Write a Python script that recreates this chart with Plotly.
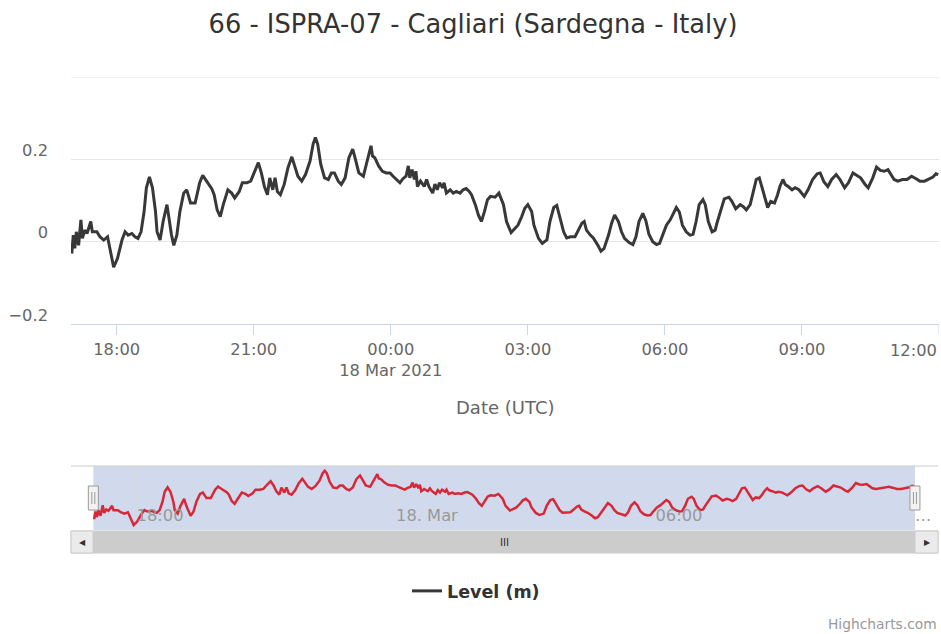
import pandas as pd
import plotly.graph_objects as go

# ---- data ----
times_mar17 = ["17:01","17:03","17:05","17:07","17:10","17:13","17:15","17:18","17:21","17:26","17:28","17:34","17:38","17:43","17:48","17:51","17:56",
               "18:01","18:07","18:11","18:15","18:20","18:24","18:28","18:32","18:36","18:39","18:43","18:47","18:51","18:53","18:57",
               "19:01","19:06","19:09","19:12","19:15","19:19","19:23","19:28","19:32","19:37","19:43","19:49","19:53","19:58",
               "20:05","20:08","20:12","20:16","20:20","20:26","20:31","20:35","20:41","20:45","20:51","20:56",
               "21:01","21:06","21:10","21:14","21:18","21:21","21:25","21:28","21:31","21:35","21:40","21:45","21:50","21:54","21:58",
               "22:03","22:08","22:14","22:18","22:21","22:24","22:28","22:33","22:38","22:42","22:46","22:51","22:55",
               "23:00","23:05","23:10","23:13","23:18","23:24","23:28","23:32","23:34","23:36","23:39","23:44","23:49","23:54","23:59"]
level_mar17 = [-0.029,0.016,-0.016,0.024,-0.009,0.053,0.008,0.028,0.020,0.049,0.024,0.024,0.012,0.004,0.012,-0.017,-0.062,
               -0.041,0.004,0.024,0.016,0.020,0.012,0.008,0.024,0.073,0.131,0.157,0.131,0.073,0.024,0.004,
               0.049,0.090,0.049,0.016,-0.009,0.016,0.073,0.118,0.126,0.094,0.094,0.143,0.161,0.147,
               0.128,0.114,0.077,0.061,0.090,0.126,0.118,0.106,0.122,0.143,0.143,0.147,
               0.171,0.192,0.167,0.134,0.114,0.155,0.126,0.155,0.122,0.114,0.139,0.180,0.206,0.180,0.159,
               0.147,0.163,0.196,0.237,0.253,0.237,0.188,0.155,0.151,0.167,0.167,0.147,0.139,
               0.155,0.204,0.225,0.204,0.167,0.159,0.188,0.216,0.233,0.208,0.204,0.184,0.171,0.167,0.167]

times_mar18 = ["00:03","00:07","00:12","00:16","00:20","00:23","00:25","00:28","00:31","00:33","00:35","00:39","00:44","00:47","00:50","00:55","00:58",
               "01:01","01:04","01:08","01:10","01:13","01:18","01:22","01:26","01:31","01:35","01:39","01:43","01:46","01:51","01:55","01:59",
               "02:03","02:07","02:11","02:17","02:22","02:26","02:28","02:32","02:38","02:43","02:47","02:52","02:56",
               "03:00","03:05","03:08","03:14","03:19","03:25","03:29","03:34","03:38","03:42","03:47","03:51","03:56",
               "04:02","04:06","04:11","04:14","04:17","04:22","04:26","04:32","04:36","04:40","04:46","04:50","04:54","04:59",
               "05:03","05:07","05:13","05:18","05:22","05:26","05:31","05:35","05:39","05:44","05:49","05:53","05:57",
               "06:02","06:07","06:11","06:15","06:19","06:23","06:28","06:33","06:37","06:41","06:45","06:50","06:53","06:57",
               "07:02","07:06","07:09","07:14","07:18","07:24","07:28","07:33","07:39","07:43","07:47","07:52","07:56",
               "08:00","08:04","08:07","08:12","08:15","08:19","08:24","08:28","08:31","08:35","08:38","08:42","08:47","08:51","08:56",
               "09:03","09:08","09:14","09:20","09:24","09:29","09:34","09:39","09:45","09:50","09:56",
               "10:01","10:07","10:11","10:17","10:23","10:27","10:33","10:38","10:43","10:48","10:53","10:57",
               "11:01","11:06","11:12","11:18","11:24","11:30","11:35","11:41","11:46","11:52","11:56","11:59"]
level_mar18 = [0.159,0.151,0.143,0.153,0.159,0.184,0.155,0.175,0.151,0.171,0.134,0.147,0.134,0.151,0.134,0.118,0.140,
               0.126,0.143,0.131,0.143,0.118,0.126,0.118,0.122,0.118,0.126,0.129,0.122,0.114,0.090,0.065,0.049,
               0.073,0.102,0.110,0.108,0.118,0.098,0.090,0.049,0.022,0.032,0.040,0.061,0.081,
               0.090,0.073,0.040,0.008,-0.004,0.004,0.049,0.083,0.088,0.061,0.024,0.009,0.012,
               0.012,0.026,0.045,0.049,0.028,0.016,0.009,-0.009,-0.023,-0.017,0.016,0.045,0.065,0.049,
               0.024,0.008,-0.002,-0.007,0.012,0.049,0.069,0.051,0.018,0.000,-0.007,-0.004,0.016,
               0.040,0.053,0.069,0.083,0.072,0.040,0.024,0.016,0.018,0.049,0.090,0.102,0.090,0.049,
               0.024,0.028,0.049,0.081,0.104,0.108,0.098,0.080,0.090,0.085,0.077,0.090,0.122,
               0.151,0.155,0.134,0.098,0.083,0.098,0.094,0.114,0.134,0.151,0.139,0.134,0.126,0.131,0.126,
               0.110,0.126,0.151,0.165,0.167,0.145,0.134,0.151,0.163,0.151,0.131,
               0.143,0.167,0.163,0.155,0.139,0.131,0.155,0.181,0.173,0.171,0.175,0.163,
               0.151,0.147,0.151,0.151,0.159,0.153,0.147,0.147,0.151,0.157,0.165,0.163]

main_ticks = ["2021-03-17 18:00","2021-03-17 21:00","2021-03-18 00:00","2021-03-18 03:00",
              "2021-03-18 06:00","2021-03-18 09:00","2021-03-18 12:00"]
main_tick_text = ["18:00","21:00","00:00<br>18 Mar 2021","03:00","06:00","09:00","12:00"]
nav_ticks = ["2021-03-17 18:00","2021-03-18 00:00","2021-03-18 06:00","2021-03-18 12:00"]
nav_tick_text = ["18:00","18. Mar","06:00","…"]
y_ticks = [-0.2, 0, 0.2, 0.4]
y_tick_text = ["−0.2", "0", "0.2", ""]

view_start, view_end = "2021-03-17 17:00", "2021-03-18 12:00"
nav_start, nav_end = "2021-03-17 16:29", "2021-03-18 12:32"

times = pd.to_datetime(["2021-03-17 " + t for t in times_mar17] + ["2021-03-18 " + t for t in times_mar18])
level = level_mar17 + level_mar18

FONT = "DejaVu Sans"
W, H = 941, 634
ML, MR, MT, MB = 71, 2, 77, 634 - 553
PW, PH = W - ML - MR, H - MT - MB


def px_x(p):  # window pixel -> paper x
    return (p - ML) / PW


def px_y(p):  # window pixel -> paper y
    return (H - MB - p) / PH


fig = go.Figure()
fig.add_trace(go.Scatter(x=times, y=level, mode="lines", name="Level (m)",
                         line=dict(color="#383838", width=3), xaxis="x", yaxis="y"))
fig.add_trace(go.Scatter(x=times, y=level, mode="lines", showlegend=False,
                         line=dict(color="#d62839", width=2.5), xaxis="x2", yaxis="y2"))

sb_y0, sb_y1 = px_y(553), px_y(531)
shapes = [
    # top grid line of the main plot (sits on the plot edge)
    dict(type="line", xref="x domain", yref="y", x0=0, x1=1, y0=y_ticks[-1], y1=y_ticks[-1],
         line=dict(color="#e6e6e6", width=1), layer="below"),
    dict(type="rect", xref="x2", yref="paper", x0=view_start, x1=view_end, y0=px_y(530), y1=px_y(466),
         fillcolor="rgba(102,133,194,0.3)", line=dict(width=0), layer="below"),
    dict(type="line", xref="paper", yref="paper", x0=0, x1=px_x(938), y0=px_y(466), y1=px_y(466),
         line=dict(color="#cccccc", width=1)),
    # scrollbar
    dict(type="rect", xref="paper", yref="paper", x0=0, x1=px_x(938), y0=sb_y0, y1=sb_y1,
         fillcolor="#cccccc", line=dict(color="#cccccc", width=1)),
    dict(type="rect", xref="paper", yref="paper", x0=0, x1=px_x(93), y0=sb_y0, y1=sb_y1,
         fillcolor="#ebebeb", line=dict(color="#cccccc", width=1)),
    dict(type="rect", xref="paper", yref="paper", x0=px_x(915), x1=px_x(938), y0=sb_y0, y1=sb_y1,
         fillcolor="#ebebeb", line=dict(color="#cccccc", width=1)),
    # tick mark at the right end of the main axis
    dict(type="line", xref="x", yref="paper", x0=view_end, x1=view_end, y0=px_y(324), y1=px_y(334),
         line=dict(color="#ccd6eb", width=1)),
]
for t in (view_start, view_end):
    shapes.append(dict(type="rect", xref="x2", yref="paper", xsizemode="pixel",
                       xanchor=t, x0=-5, x1=5, y0=px_y(510), y1=px_y(486),
                       fillcolor="#f2f2f2", line=dict(color="#999999", width=1)))
    for dx in (-1.5, 1.5):
        shapes.append(dict(type="line", xref="x2", yref="paper", xsizemode="pixel",
                           xanchor=t, x0=dx, x1=dx, y0=px_y(504), y1=px_y(492),
                           line=dict(color="#999999", width=1)))

annotations = [
    # last main tick label, kept inside the chart like the original
    dict(text=main_tick_text[-1], xref="paper", yref="paper", x=px_x(939), y=px_y(350), xanchor="right",
         yanchor="middle", showarrow=False, font=dict(family=FONT, size=16.3, color="#666666")),
    dict(text="Date (UTC)", xref="paper", yref="paper", x=px_x(505), y=px_y(407), xanchor="center", yanchor="middle",
         showarrow=False, font=dict(family=FONT, size=18, color="#666666")),
    dict(text="Highcharts.com", xref="paper", yref="paper", x=px_x(939), y=px_y(624), xanchor="right", yanchor="middle",
         showarrow=False, font=dict(family=FONT, size=13.8, color="#999999")),
    dict(text="◀", xref="paper", yref="paper", x=px_x(82), y=px_y(542), xanchor="center", yanchor="middle",
         showarrow=False, font=dict(family=FONT, size=8, color="#333333")),
    dict(text="▶", xref="paper", yref="paper", x=px_x(927), y=px_y(542), xanchor="center", yanchor="middle",
         showarrow=False, font=dict(family=FONT, size=8, color="#333333")),
    dict(text="III", xref="paper", yref="paper", x=px_x(504), y=px_y(542), xanchor="center", yanchor="middle",
         showarrow=False, font=dict(family="Liberation Sans", size=11, color="#333333")),
]

fig.update_layout(
    width=W, height=H,
    margin=dict(l=ML, r=MR, t=MT, b=MB, autoexpand=False),
    paper_bgcolor="white", plot_bgcolor="white",
    font=dict(family=FONT, color="#666666"),
    title=dict(text="66 - ISPRA-07 - Cagliari (Sardegna - Italy)", x=473 / W, xref="container", xanchor="center",
               y=1 - 24 / H, yref="container", yanchor="middle",
               font=dict(family=FONT, size=25.7, color="#333333")),
    xaxis=dict(domain=[0, 1], anchor="y", range=[view_start, view_end], tickvals=main_ticks[:-1],
               ticktext=main_tick_text[:-1],
               ticks="outside", ticklen=10, tickcolor="#ccd6eb", showline=True, linecolor="#ccd6eb", linewidth=1,
               showgrid=False, zeroline=False, tickfont=dict(size=16.3, color="#666666"), automargin=False),
    yaxis=dict(domain=[px_y(324), 1], anchor="x", range=[-0.2, 0.4], tickvals=y_ticks, ticktext=y_tick_text,
               gridcolor="#e6e6e6", gridwidth=1, zeroline=False, showline=False, automargin=False,
               tickfont=dict(size=16.3, color="#666666"), ticklabelstandoff=22, ticklabelshift=-9),
    xaxis2=dict(domain=[0, px_x(938)], anchor="y2", range=[nav_start, nav_end], tickvals=nav_ticks, ticktext=nav_tick_text,
                ticklabelposition="inside right", showgrid=True, gridcolor="#d4d9e4", ticks="", showline=False,
                zeroline=False, tickfont=dict(size=16.3, color="#999999"), automargin=False),
    yaxis2=dict(domain=[px_y(530), px_y(466)], anchor="x2", range=[-0.091, 0.28], showgrid=False, zeroline=False,
                showticklabels=False, showline=False, automargin=False),
    showlegend=True,
    legend=dict(orientation="h", x=px_x(476), xanchor="center", y=px_y(591), yanchor="middle",
                font=dict(family=FONT, size=17.5, color="#333333", weight="bold"), itemwidth=30),
    shapes=shapes, annotations=annotations,
)

# place the 941x634 figure flush with the page corner (no default body margin / scrollbars)
fig.write_html("out.html", config={"displayModeBar": False},
               post_script="document.body.style.margin='0';document.body.style.overflow='hidden';"
                           "document.documentElement.style.overflow='hidden';")
